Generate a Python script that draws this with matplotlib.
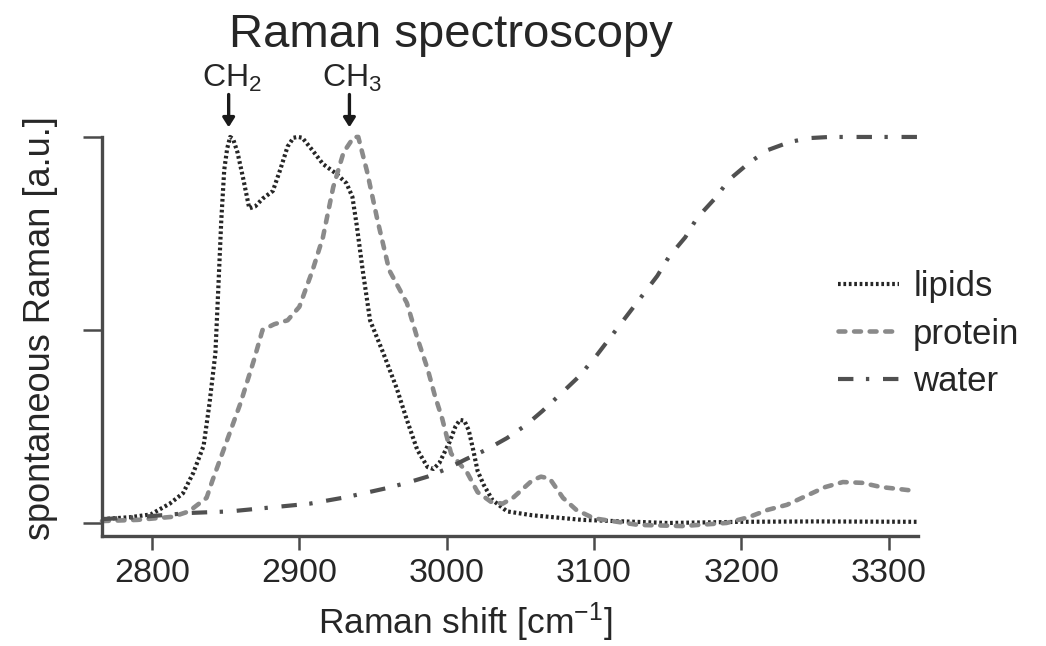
import matplotlib
matplotlib.use("Agg")
import matplotlib.pyplot as plt

plt.rcParams['font.family'] = ['Liberation Sans', 'DejaVu Sans']
plt.rcParams['mathtext.fontset'] = 'custom'
plt.rcParams['mathtext.rm'] = 'Liberation Sans'
plt.rcParams['mathtext.it'] = 'Liberation Sans'
plt.rcParams['mathtext.default'] = 'regular'

# ---- data ----
lipid_x = [2766, 2785, 2799, 2812, 2821, 2828, 2835, 2839, 2843, 2845, 2847, 2849,
           2851, 2853, 2855, 2858, 2862, 2866, 2870, 2875, 2882, 2887, 2892, 2896,
           2899, 2902, 2909, 2916, 2925, 2932, 2936, 2939, 2943, 2948, 2957, 2966,
           2973, 2980, 2987, 2991, 2995, 3002, 3006, 3009, 3012, 3015, 3018, 3021,
           3025, 3031, 3041, 3058, 3092, 3150, 3200, 3250, 3320]
lipid_y = [0.010, 0.015, 0.022, 0.050, 0.077, 0.130, 0.200, 0.310, 0.440, 0.610,
           0.785, 0.915, 0.970, 1.000, 0.995, 0.960, 0.890, 0.815, 0.820, 0.840,
           0.860, 0.915, 0.975, 0.998, 1.000, 0.998, 0.965, 0.930, 0.905, 0.880,
           0.845, 0.770, 0.655, 0.525, 0.440, 0.350, 0.267, 0.190, 0.145, 0.140,
           0.155, 0.210, 0.250, 0.267, 0.265, 0.240, 0.190, 0.135, 0.100, 0.060,
           0.030, 0.020, 0.008, 0.000, 0.003, 0.004, 0.003]

protein_x = [2766, 2790, 2814, 2825, 2837, 2841, 2851, 2860, 2869, 2875, 2883, 2892,
             2900, 2909, 2916, 2923, 2930, 2937, 2940, 2946, 2953, 2961, 2973, 2980,
             2987, 2992, 2997, 3003, 3014, 3021, 3030, 3038, 3045, 3058, 3064, 3070,
             3079, 3088, 3100, 3130, 3160, 3190, 3205, 3218, 3231, 3244, 3257, 3269,
             3282, 3295, 3307, 3318]
protein_y = [0.005, 0.008, 0.016, 0.030, 0.065, 0.110, 0.215, 0.310, 0.420, 0.500,
             0.515, 0.525, 0.560, 0.655, 0.740, 0.870, 0.960, 1.000, 1.000, 0.910,
             0.785, 0.655, 0.570, 0.480, 0.400, 0.330, 0.270, 0.180, 0.130, 0.080,
             0.055, 0.050, 0.065, 0.110, 0.120, 0.115, 0.065, 0.034, 0.012, -0.005,
             -0.008, 0.000, 0.015, 0.034, 0.047, 0.070, 0.093, 0.106, 0.104, 0.093,
             0.088, 0.083]

water_x = [2766, 2790, 2826, 2853, 2880, 2907, 2932, 2959, 2973, 2987, 3000, 3013,
           3027, 3041, 3054, 3065, 3079, 3090, 3102, 3113, 3123, 3132, 3143, 3151,
           3162, 3170, 3182, 3192, 3206, 3218, 3233, 3246, 3260, 3320]
water_y = [0.010, 0.015, 0.026, 0.030, 0.040, 0.050, 0.067, 0.090, 0.104, 0.120,
           0.140, 0.165, 0.190, 0.220, 0.254, 0.290, 0.340, 0.380, 0.435, 0.490,
           0.540, 0.585, 0.640, 0.690, 0.740, 0.790, 0.840, 0.890, 0.935, 0.966,
           0.987, 0.997, 1.000, 1.000]

x_ticks = [2800, 2900, 3000, 3100, 3200, 3300]
y_ticks = [0, 0.5, 1.0]
series_labels = ['lipids', 'protein', 'water']
peak_labels = ['CH$_2$', 'CH$_3$']
peak_pos = [2852, 2934]

TXT = '#262626'
AX = '#4a4a4a'

fig = plt.figure(figsize=(10.46, 6.46), dpi=100)
ax = fig.add_axes([0.0975, 0.1703, 0.7801, 0.6533])

l1, = ax.plot(lipid_x, lipid_y, color='#262626', lw=3.0, ls=(0, (0.65, 0.65)),
              dash_capstyle='butt', label=series_labels[0], clip_on=False)
l2, = ax.plot(protein_x, protein_y, color='#8a8a8a', lw=3.3, ls=(0, (1.5, 1.9)),
              dash_capstyle='round', label=series_labels[1], clip_on=False)
l3, = ax.plot(water_x, water_y, color='#505050', lw=3.0, ls=(0, (3.7, 3.0, 0.8, 3.3)),
              label=series_labels[2], clip_on=False)

ax.set_xlim(2766, 3320)
ax.set_ylim(-0.0337, 1.0596)
ax.set_xticks(x_ticks)
ax.set_xticklabels([str(v) for v in x_ticks])
ax.set_yticks(y_ticks)
ax.set_yticklabels([])

for s in ['top', 'right']:
    ax.spines[s].set_visible(False)
for s in ['left', 'bottom']:
    ax.spines[s].set_linewidth(2.4)
    ax.spines[s].set_color(AX)
ax.spines['left'].set_bounds(-0.0337, 1.0)

ax.tick_params(axis='x', length=10, width=1.8, color=AX, pad=6,
               labelsize=24.5, labelcolor=TXT)
ax.tick_params(axis='y', length=14, width=1.8, color=AX)

ax.set_xlabel('Raman shift [cm$^{-1}$]', fontsize=25.5, color=TXT)
ax.xaxis.set_label_coords(0.445, -0.153)
ax.set_ylabel('spontaneous Raman [a.u.]', fontsize=26, color=TXT)
ax.yaxis.set_label_coords(-0.054, 0.493)

fig.text(0.431, 0.927, 'Raman spectroscopy', fontsize=34, color=TXT,
         ha='center', va='baseline')

for lab, xp in zip(peak_labels, peak_pos):
    ax.text(xp + 2, 1.13, lab, fontsize=23, color=TXT, ha='center',
            va='baseline', clip_on=False)
    ax.annotate('', xy=(xp, 1.025), xytext=(xp, 1.11),
                arrowprops=dict(arrowstyle='-|>,head_width=0.35,head_length=0.55',
                                lw=2.4, color='#1a1a1a', shrinkA=0, shrinkB=0),
                annotation_clip=False)

leg = fig.legend(handles=[l1, l2, l3], loc='upper left',
                 bbox_to_anchor=(0.8016, 0.582), frameon=False,
                 fontsize=25, handlelength=1.75, handletextpad=0.4,
                 labelspacing=0.42, borderaxespad=0, borderpad=0)
for t in leg.get_texts():
    t.set_color(TXT)

fig.savefig('out.png', dpi=100, facecolor='white')
